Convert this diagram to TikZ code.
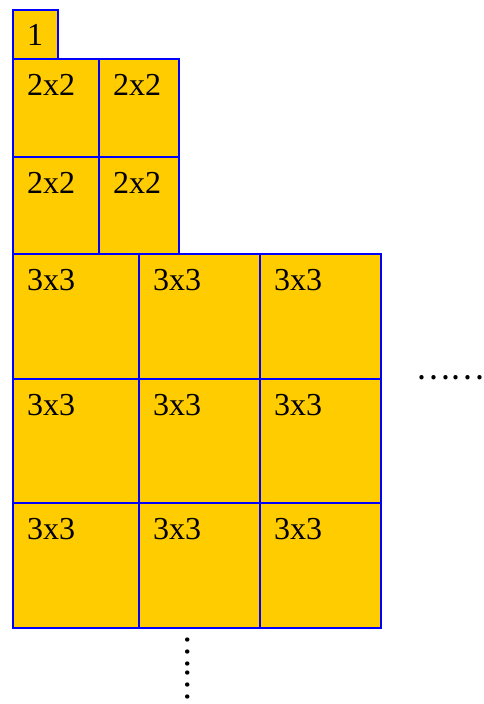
\documentclass[tikz,border=0pt]{standalone}
\usepackage{fontspec}
\setmainfont{Liberation Serif}
\newfontfamily\cjk{Noto Sans CJK TC}
\usepackage{tikz}
\usetikzlibrary{calc}
\definecolor{cellgold}{RGB}{255,204,0}
\tikzset{
  cell/.style ={draw=blue,fill=cellgold,line width=2pt,anchor=north west,inner sep=0pt},
  tag/.style  ={anchor=base west,inner sep=0pt,font=\fontsize{32}{36}\selectfont},
  more/.style ={inner sep=0pt,font=\cjk\fontsize{32}{36}\selectfont},
}

\begin{document}
\begin{tikzpicture}[x=1pt,y=-1pt]
  \useasboundingbox (0,0) rectangle (483,704);
  % the 1x1 square
  \node[cell,minimum width=45,minimum height=49] (a11) at (12,9) {};
  \node[tag] (ta11) at ($(a11.north west)+(15,36)$) {1};
  % four 2x2 squares
  \foreach \c/\x/\w in {1/12/86, 2/98/80}
    \foreach \r/\y/\h in {1/58/98, 2/156/97}{
      \node[cell,minimum width=\w,minimum height=\h] (b\r\c) at (\x,\y) {};
      \node[tag] (tb\r\c) at ($(b\r\c.north west)+(15,37)$) {2x2};
    }
  % nine 3x3 squares
  \foreach \c/\x/\w in {1/12/126, 2/138/121, 3/259/121}
    \foreach \r/\y/\h in {1/253/125, 2/378/124, 3/502/125}{
      \node[cell,minimum width=\w,minimum height=\h] (c\r\c) at (\x,\y) {};
      \node[tag] (tc\r\c) at ($(c\r\c.north west)+(15,37)$) {3x3};
    }
  % and so on
  \node[more] (right) at (450,378) {……};
  \node[more,rotate=90] (down) at (188,669) {……};
\end{tikzpicture}
\end{document}
